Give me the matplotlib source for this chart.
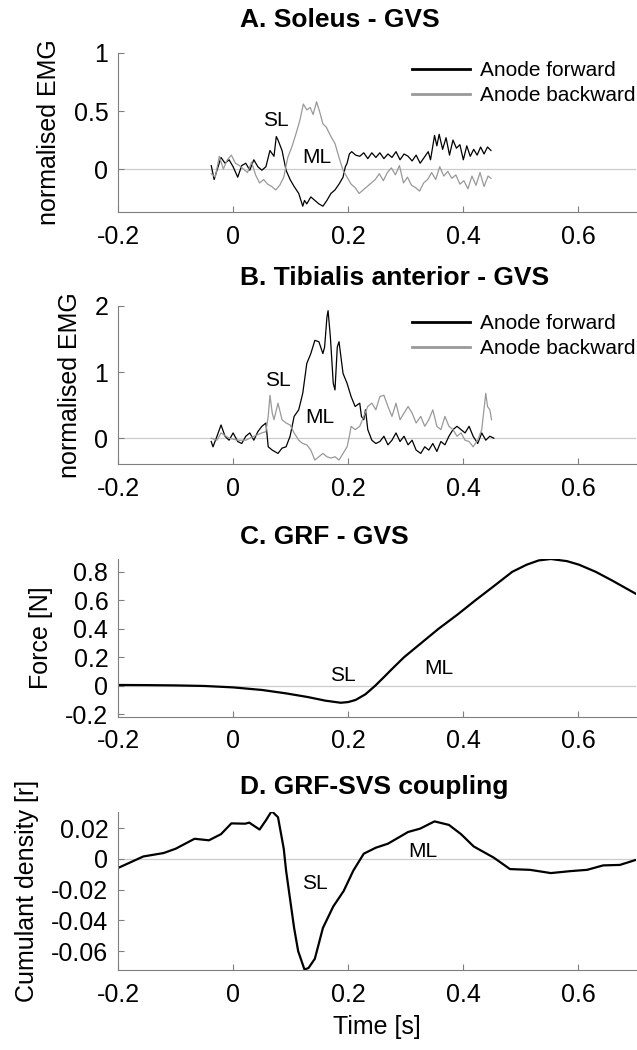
import matplotlib
matplotlib.use("Agg")
import matplotlib.pyplot as plt

plt.rcParams['font.family'] = ['Liberation Sans', 'DejaVu Sans']
plt.rcParams['axes.unicode_minus'] = False

# ---- A. Soleus (time [s], normalised EMG) ----
sol_fwd_t = [-0.038, -0.033, -0.028, -0.021, -0.014, -0.007, 0.000, 0.008, 0.015, 0.022,
             0.029, 0.036, 0.043, 0.050, 0.057, 0.064, 0.071, 0.075, 0.078, 0.085,
             0.092, 0.099, 0.106, 0.114, 0.121, 0.124, 0.128, 0.135, 0.142, 0.149,
             0.156, 0.163, 0.170, 0.177, 0.184, 0.191, 0.195, 0.198, 0.202, 0.206,
             0.213, 0.220, 0.227, 0.234, 0.241, 0.248, 0.255, 0.262, 0.269, 0.276,
             0.283, 0.290, 0.297, 0.304, 0.311, 0.318, 0.325, 0.332, 0.339, 0.343,
             0.350, 0.354, 0.358, 0.364, 0.370, 0.376, 0.382, 0.388, 0.394, 0.400,
             0.406, 0.412, 0.418, 0.424, 0.430, 0.436, 0.442, 0.448]
sol_fwd = [0.03, -0.09, -0.01, 0.10, 0.05, 0.08, 0.02, -0.07, 0.03, 0.05,
           -0.01, 0.08, 0.02, -0.01, 0.02, 0.16, 0.11, 0.28, 0.25, 0.16,
           -0.01, -0.09, -0.15, -0.21, -0.32, -0.27, -0.30, -0.24, -0.27, -0.30,
           -0.32, -0.27, -0.21, -0.18, -0.13, -0.07, 0.02, 0.05, 0.13, 0.15,
           0.12, 0.11, 0.14, 0.09, 0.14, 0.10, 0.14, 0.09, 0.13, 0.10,
           0.15, 0.08, 0.13, 0.11, 0.07, 0.12, 0.05, 0.10, 0.15, 0.08,
           0.29, 0.20, 0.30, 0.17, 0.27, 0.12, 0.25, 0.18, 0.21, 0.08,
           0.20, 0.11, 0.17, 0.12, 0.19, 0.13, 0.19, 0.16]

sol_bwd_t = [-0.038, -0.031, -0.024, -0.017, -0.010, -0.003, 0.004, 0.011, 0.018, 0.025,
             0.032, 0.039, 0.046, 0.053, 0.060, 0.067, 0.074, 0.081, 0.088, 0.095,
             0.102, 0.109, 0.116, 0.122, 0.128, 0.134, 0.139, 0.145, 0.150, 0.156,
             0.162, 0.170, 0.177, 0.184, 0.191, 0.198, 0.205, 0.212, 0.219, 0.226,
             0.233, 0.240, 0.247, 0.254, 0.261, 0.268, 0.275, 0.282, 0.289, 0.296,
             0.303, 0.310, 0.317, 0.324, 0.331, 0.338, 0.345, 0.352, 0.359, 0.366,
             0.373, 0.380, 0.387, 0.394, 0.401, 0.408, 0.415, 0.422, 0.429, 0.436,
             0.443, 0.448]
sol_bwd = [-0.04, -0.07, 0.11, 0.00, 0.08, 0.12, 0.05, 0.03, 0.00, -0.03,
           0.06, -0.05, -0.12, -0.09, -0.13, -0.15, -0.18, -0.14, -0.07, 0.10,
           0.19, 0.30, 0.42, 0.56, 0.51, 0.53, 0.47, 0.58, 0.50, 0.39,
           0.36, 0.28, 0.22, 0.10, -0.01, -0.07, -0.13, -0.16, -0.21, -0.18,
           -0.15, -0.12, -0.09, -0.04, -0.10, -0.03, 0.01, -0.05, 0.03, -0.12,
           -0.07, -0.14, -0.16, -0.19, -0.12, -0.09, -0.03, -0.09, 0.02, -0.06,
           -0.02, -0.08, -0.05, -0.13, -0.10, -0.17, -0.06, -0.14, -0.03, -0.15,
           -0.06, -0.08]

# ---- B. Tibialis anterior ----
ta_fwd_t = [-0.038, -0.035, -0.028, -0.021, -0.014, -0.007, 0.000, 0.008, 0.015, 0.022,
            0.029, 0.036, 0.043, 0.050, 0.057, 0.061, 0.068, 0.078, 0.085, 0.092,
            0.099, 0.106, 0.114, 0.121, 0.128, 0.135, 0.142, 0.149, 0.156, 0.159,
            0.163, 0.165, 0.169, 0.174, 0.177, 0.181, 0.184, 0.191, 0.198, 0.205,
            0.212, 0.220, 0.223, 0.227, 0.230, 0.234, 0.241, 0.248, 0.255, 0.262,
            0.269, 0.276, 0.283, 0.290, 0.297, 0.304, 0.311, 0.318, 0.326, 0.333,
            0.340, 0.347, 0.354, 0.361, 0.368, 0.375, 0.382, 0.389, 0.396, 0.403,
            0.410, 0.417, 0.425, 0.432, 0.439, 0.446, 0.453]
ta_fwd = [-0.05, -0.13, 0.03, 0.20, 0.03, -0.03, 0.08, -0.05, -0.08, 0.03,
          0.08, -0.03, 0.10, 0.18, 0.23, -0.13, -0.18, -0.23, -0.15, -0.13,
          0.03, 0.33, 0.43, 0.68, 1.13, 1.28, 1.48, 1.46, 1.28, 1.38,
          1.83, 1.93, 1.53, 0.83, 0.73, 1.38, 1.46, 0.98, 0.83, 0.63,
          0.48, 0.53, 0.33, 0.28, 0.43, 0.13, -0.03, -0.08, -0.05, 0.03,
          -0.10, -0.03, 0.08, -0.05, 0.03, -0.10, -0.03, -0.18, -0.23, -0.13,
          -0.18, -0.08, -0.20, -0.05, -0.10, 0.03, 0.13, 0.18, 0.13, 0.08,
          0.18, 0.03, -0.08, 0.08, -0.03, 0.03, 0.00]

ta_bwd_t = [-0.038, -0.028, -0.021, -0.007, 0.008, 0.022, 0.036, 0.050, 0.057, 0.061,
            0.064, 0.068, 0.071, 0.078, 0.085, 0.092, 0.099, 0.106, 0.114, 0.121,
            0.128, 0.135, 0.142, 0.149, 0.156, 0.163, 0.170, 0.177, 0.184, 0.191,
            0.198, 0.202, 0.205, 0.212, 0.220, 0.227, 0.234, 0.241, 0.248, 0.255,
            0.262, 0.269, 0.276, 0.283, 0.290, 0.297, 0.304, 0.311, 0.318, 0.326,
            0.333, 0.340, 0.347, 0.354, 0.361, 0.368, 0.375, 0.382, 0.389, 0.396,
            0.403, 0.410, 0.417, 0.425, 0.432, 0.439, 0.442, 0.446, 0.449]
ta_bwd = [0.00, -0.03, 0.08, 0.00, -0.03, -0.03, 0.03, 0.08, 0.10, 0.33,
          0.65, 0.38, 0.28, 0.53, 0.28, 0.23, 0.20, 0.08, -0.03, -0.08,
          -0.10, -0.18, -0.33, -0.28, -0.23, -0.28, -0.30, -0.28, -0.33, -0.23,
          -0.13, 0.03, 0.18, 0.13, 0.18, 0.33, 0.48, 0.53, 0.43, 0.63,
          0.65, 0.48, 0.33, 0.53, 0.28, 0.38, 0.48, 0.38, 0.23, 0.33,
          0.18, 0.28, 0.43, 0.18, 0.13, 0.33, 0.18, 0.13, 0.03, 0.08,
          -0.03, -0.05, -0.13, -0.03, 0.13, 0.68, 0.48, 0.43, 0.28]

# ---- C. GRF ----
grf_t = [-0.2, -0.15, -0.1, -0.05, 0.0, 0.05, 0.092, 0.13, 0.16, 0.187,
         0.2, 0.213, 0.23, 0.247, 0.262, 0.276, 0.297, 0.33, 0.357, 0.39,
         0.421, 0.45, 0.485, 0.51, 0.531, 0.552, 0.58, 0.601, 0.63, 0.658, 0.7]
grf = [0.005, 0.004, 0.002, -0.002, -0.012, -0.03, -0.054, -0.08, -0.105, -0.12,
       -0.115, -0.1, -0.06, 0.0, 0.06, 0.117, 0.2, 0.31, 0.4, 0.5,
       0.6, 0.69, 0.8, 0.85, 0.88, 0.89, 0.875, 0.85, 0.8, 0.74, 0.645]

# ---- D. GRF-SVS coupling ----
cd_t = [-0.2, -0.156, -0.121, -0.1, -0.067, -0.042, -0.021, -0.003, 0.021, 0.028,
        0.046, 0.057, 0.067, 0.078, 0.088, 0.092, 0.1, 0.106, 0.113, 0.124,
        0.131, 0.142, 0.156, 0.174, 0.192, 0.209, 0.227, 0.248, 0.269, 0.304,
        0.325, 0.35, 0.375, 0.396, 0.418, 0.453, 0.481, 0.516, 0.552, 0.587,
        0.615, 0.643, 0.672, 0.7]
cd = [-0.006, 0.0015, 0.0037, 0.0065, 0.013, 0.012, 0.016, 0.023, 0.0228, 0.0235,
      0.019, 0.025, 0.031, 0.027, 0.0065, -0.0076, -0.029, -0.045, -0.06, -0.072,
      -0.071, -0.065, -0.045, -0.031, -0.021, -0.0076, 0.0033, 0.0072, 0.0098, 0.0174,
      0.0196, 0.0243, 0.022, 0.016, 0.008, 0.0007, -0.0067, -0.0072, -0.0093, -0.008,
      -0.0072, -0.0043, -0.004, -0.0007]

xticks = [-0.2, 0, 0.2, 0.4, 0.6]
xticklabels = ['-0.2', '0', '0.2', '0.4', '0.6']

W, H = 637, 1050
fig = plt.figure(figsize=(W / 100, H / 100), dpi=100)

GRAY = '#999999'
SPINE = '#7f7f7f'


def make_ax(top_px, bot_px):
    ax = fig.add_axes([118 / W, 1 - bot_px / H, (636 - 118) / W, (bot_px - top_px) / H])
    for s in ['top', 'right']:
        ax.spines[s].set_visible(False)
    for s in ['left', 'bottom']:
        ax.spines[s].set_color(SPINE)
        ax.spines[s].set_linewidth(0.8)
    ax.tick_params(direction='in', length=4, width=0.8, color=SPINE,
                   labelsize=18, labelcolor='black')
    ax.tick_params(axis='x', pad=9)
    ax.tick_params(axis='y', pad=7)
    ax.axhline(0, color='#cccccc', lw=0.9, zorder=0)
    ax.set_xlim(-0.2, 0.7)
    ax.set_xticks(xticks)
    ax.set_xticklabels(xticklabels)
    return ax


def title(text, y_px):
    fig.text(240 / W, 1 - y_px / H, text, fontsize=19, fontweight='bold',
             ha='left', va='center')


def emg_legend(ax):
    leg = ax.legend(loc='upper right', bbox_to_anchor=(1.0, 0.95), frameon=False,
                    fontsize=15, handlelength=2.8, borderaxespad=0.0, borderpad=0.0,
                    labelspacing=0.3, handletextpad=0.5)
    for l in leg.get_lines():
        l.set_linewidth(2)


# A
axA = make_ax(53, 212)
axA.plot(sol_fwd_t, sol_fwd, color='black', lw=0.9, label='Anode forward')
axA.plot(sol_bwd_t, sol_bwd, color=GRAY, lw=0.9, label='Anode backward')
axA.set_ylim(-0.37, 1)
axA.set_yticks([0, 0.5, 1])
axA.set_yticklabels(['0', '0.5', '1'])
axA.set_ylabel('normalised EMG', fontsize=18, labelpad=9)
axA.text(0.075, 0.42, 'SL', fontsize=15, ha='center', va='center')
axA.text(0.145, 0.10, 'ML', fontsize=15, ha='center', va='center')
emg_legend(axA)
title('A. Soleus - GVS', 20)

# B
axB = make_ax(306, 464)
axB.plot(ta_fwd_t, ta_fwd, color='black', lw=0.9, label='Anode forward')
axB.plot(ta_bwd_t, ta_bwd, color=GRAY, lw=0.9, label='Anode backward')
axB.set_ylim(-0.39, 2)
axB.set_yticks([0, 1, 2])
axB.set_yticklabels(['0', '1', '2'])
axB.set_ylabel('normalised EMG', fontsize=18, labelpad=9)
axB.text(0.078, 0.87, 'SL', fontsize=15, ha='center', va='center')
axB.text(0.151, 0.31, 'ML', fontsize=15, ha='center', va='center')
emg_legend(axB)
title('B. Tibialis anterior - GVS', 278)

# C
axC = make_ax(559, 717)
axC.plot(grf_t, grf, color='black', lw=1.6)
axC.set_ylim(-0.22, 0.89)
axC.set_yticks([-0.2, 0, 0.2, 0.4, 0.6, 0.8])
axC.set_yticklabels(['-0.2', '0', '0.2', '0.4', '0.6', '0.8'])
axC.set_ylabel('Force [N]', fontsize=18, labelpad=9)
axC.text(0.191, 0.07, 'SL', fontsize=15, ha='center', va='center')
axC.text(0.357, 0.12, 'ML', fontsize=15, ha='center', va='center')
title('C. GRF - GVS', 537)

# D
axD = make_ax(812, 970)
axD.plot(cd_t, cd, color='black', lw=1.6)
axD.set_ylim(-0.0723, 0.0304)
axD.set_yticks([-0.06, -0.04, -0.02, 0, 0.02])
axD.set_yticklabels(['-0.06', '-0.04', '-0.02', '0', '0.02'])
axD.set_ylabel('Cumulant density [r]', fontsize=18, labelpad=9)
axD.set_xlabel('Time [s]', fontsize=18, labelpad=6)
axD.text(0.142, -0.016, 'SL', fontsize=15, ha='center', va='center')
axD.text(0.329, 0.005, 'ML', fontsize=15, ha='center', va='center')
title('D. GRF-SVS coupling', 787)

fig.savefig('out.png', dpi=100)
